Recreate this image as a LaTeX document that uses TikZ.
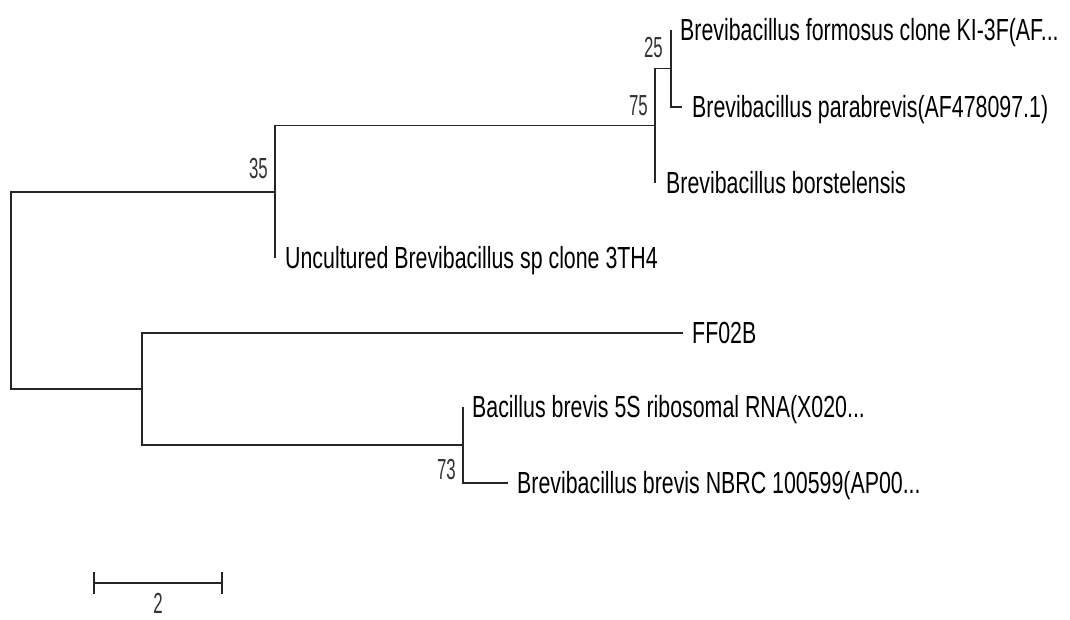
\documentclass[tikz,border=0pt]{standalone}
\usepackage{fontspec}
\newfontfamily\lblfont[FakeStretch=0.70]{Liberation Sans}
\newfontfamily\numfont[FakeStretch=0.58]{Liberation Sans}
\begin{document}
\begin{tikzpicture}[x=1pt, y=-1pt,
  branch/.style={line width=1.5pt, draw=black!85},
  taxon/.style={anchor=base west, inner sep=0pt, font=\lblfont\fontsize{30.5}{32}\selectfont},
  boot/.style={inner sep=0pt, font=\numfont\fontsize{29}{31}\selectfont, text=black!80},
]
% canvas
\fill[white] (0,0) rectangle (1070,619);
\useasboundingbox (0,0) rectangle (1070,619);

% internal nodes
\coordinate (root) at (11,290.5);
\coordinate (n35)  at (275,192);
\coordinate (n75)  at (655,125.5);
\coordinate (n25)  at (671,68.5);
\coordinate (nlow) at (142,389);
\coordinate (n73)  at (463,445);

% leaf tips
\coordinate (tFormosus) at (671,30);
\coordinate (tPara)     at (682,107);
\coordinate (tBorst)    at (655,183);
\coordinate (tUncult)   at (275,258);
\coordinate (tFF)       at (683,333);
\coordinate (tBbrevis)  at (463,407);
\coordinate (tNBRC)     at (508,483);

% branches
\draw[branch] (root) |- (n35);
\draw[branch] (root) |- (nlow);
\draw[branch] (n35) |- (n75);
\draw[branch] (n35) |- (tUncult);
\draw[branch] (n75) |- (n25);
\draw[branch] (n75) |- (tBorst);
\draw[branch] (n25) |- (tFormosus);
\draw[branch] (n25) |- (tPara);
\draw[branch] (nlow) |- (tFF);
\draw[branch] (nlow) |- (n73);
\draw[branch] (n73) |- (tBbrevis);
\draw[branch] (n73) |- (tNBRC);

% taxon labels
\node[taxon] (lFormosus) at ([shift={(9,10.5)}]tFormosus) {Brevibacillus formosus clone KI-3F(AF...};
\node[taxon] (lPara)     at ([shift={(10,10.5)}]tPara) {Brevibacillus parabrevis(AF478097.1)};
\node[taxon] (lBorst)    at ([shift={(11,10.5)}]tBorst) {Brevibacillus borstelensis};
\node[taxon] (lUncult)   at ([shift={(10,10.5)}]tUncult) {Uncultured Brevibacillus sp clone 3TH4};
\node[taxon] (lFF)       at ([shift={(9,10.5)}]tFF) {FF02B};
\node[taxon] (lBbrevis)  at ([shift={(9,10.5)}]tBbrevis) {Bacillus brevis 5S ribosomal RNA(X020...};
\node[taxon] (lNBRC)     at ([shift={(9,10.5)}]tNBRC) {Brevibacillus brevis NBRC 100599(AP00...};

% bootstrap values
\node[boot, anchor=east] (b25) at ([shift={(-8,-21)}]n25) {25};
\node[boot, anchor=east] (b75) at ([shift={(-7,-20)}]n75) {75};
\node[boot, anchor=east] (b35) at ([shift={(-7,-23)}]n35) {35};
\node[boot, anchor=east] (b73) at ([shift={(-7,25)}]n73) {73};

% scale bar
\coordinate (sbL) at (94,583);
\coordinate (sbR) at (222,583);
\draw[branch] (sbL) -- (sbR);
\draw[branch] ([yshift=-11]sbL) -- ([yshift=11]sbL);
\draw[branch] ([yshift=-11]sbR) -- ([yshift=11]sbR);
\node[boot, anchor=base] (sbText) at (158,613) {2};
\end{tikzpicture}
\end{document}
